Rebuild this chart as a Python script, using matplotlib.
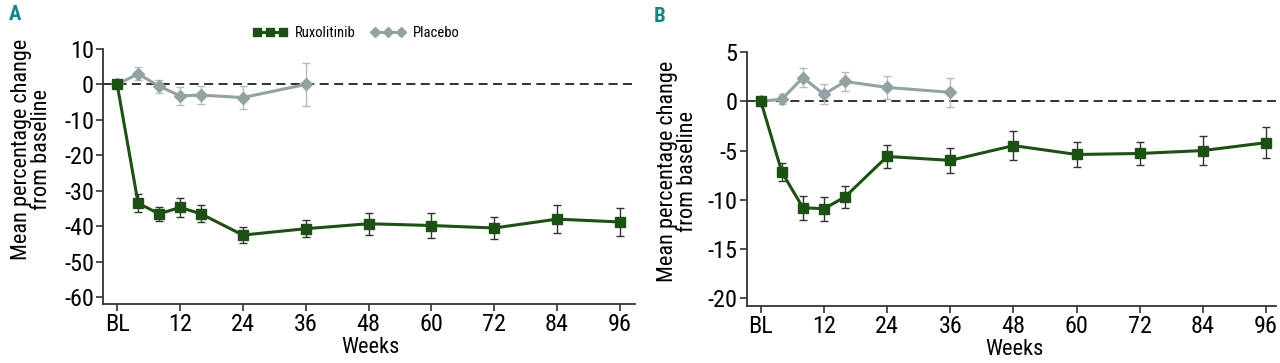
import matplotlib
matplotlib.use('Agg')
import matplotlib.pyplot as plt
from matplotlib.lines import Line2D

plt.rcParams['font.family'] = ['Roboto Condensed', 'DejaVu Sans']
plt.rcParams['axes.unicode_minus'] = False

# 주차 (BL = 0)
weeks_rux = [0, 4, 8, 12, 16, 24, 36, 48, 60, 72, 84, 96]
weeks_pbo = [0, 4, 8, 12, 16, 24, 36]
tick_pos = [0, 12, 24, 36, 48, 60, 72, 84, 96]
tick_labels = ['BL', '12', '24', '36', '48', '60', '72', '84', '96']

# 패널 A
rux_a = [0, -33.5, -36.5, -34.7, -36.5, -42.5, -40.7, -39.3, -39.8, -40.5, -38.0, -38.8]
rux_a_err = [0, 2.5, 2.0, 2.7, 2.4, 2.3, 2.4, 3.1, 3.6, 3.2, 3.9, 3.9]
pbo_a = [0, 3.0, -0.5, -3.2, -3.0, -3.7, 0.0]
pbo_a_err = [0, 1.8, 1.8, 2.5, 2.5, 3.2, 6.0]

# 패널 B
rux_b = [0, -7.2, -10.8, -10.9, -9.7, -5.6, -6.0, -4.5, -5.4, -5.3, -5.0, -4.2]
rux_b_err = [0, 0.9, 1.2, 1.2, 1.1, 1.2, 1.3, 1.5, 1.3, 1.2, 1.5, 1.6]
pbo_b = [0, 0.2, 2.4, 0.7, 2.0, 1.4, 0.9]
pbo_b_err = [0, 0.5, 1.0, 1.0, 1.0, 1.2, 1.5]

green = '#1d5014'
grey = '#93a2a3'
teal = '#188585'

fig = plt.figure(figsize=(12.8, 3.63), dpi=100)
ax_a = fig.add_axes([0.0805, 0.162, 0.4156, 0.703])
ax_b = fig.add_axes([0.5833, 0.156, 0.4137, 0.701])


def draw(ax, rux, rux_err, pbo, pbo_err, ylim, yticks, xlim, ylab_xy, xlab_xy):
    ax.axhline(0, color='#222222', lw=1.3, ls=(0, (5, 3)), zorder=1)
    ax.errorbar(weeks_pbo, pbo, yerr=pbo_err, color=grey, ecolor='#b3bbbb',
                elinewidth=1, capsize=3, capthick=1, lw=2.2, marker='D',
                markersize=6.5, zorder=2)
    ax.errorbar(weeks_rux, rux, yerr=rux_err, color=green, ecolor='#333333',
                elinewidth=1, capsize=3, capthick=1, lw=2.2, marker='s',
                markersize=6.5, zorder=3)
    ax.set_xlim(*xlim)
    ax.set_ylim(*ylim)
    ax.set_yticks(yticks)
    ax.set_xticks(tick_pos)
    ax.set_xticklabels(tick_labels)
    ax.spines['top'].set_visible(False)
    ax.spines['right'].set_visible(False)
    for s in ['left', 'bottom']:
        ax.spines[s].set_color('#333333')
        ax.spines[s].set_linewidth(1.3)
    ax.tick_params(labelsize=17.5, length=5, width=1.2, color='#333333', pad=1.5)
    ax.set_xlabel('Weeks', fontsize=16)
    ax.set_ylabel('Mean percentage change\nfrom baseline', fontsize=16,
                  linespacing=0.95)
    ax.xaxis.set_label_coords(*xlab_xy)
    ax.xaxis.label.set_va('center')
    ax.yaxis.set_label_coords(*ylab_xy)
    ax.yaxis.label.set_va('center')


draw(ax_a, rux_a, rux_a_err, pbo_a, pbo_a_err, (-62, 10), list(range(10, -61, -10)),
     (-2.7, 98.9), (-0.135, 0.605), (0.503, -0.168))
draw(ax_b, rux_b, rux_b_err, pbo_b, pbo_b_err, (-20.8, 5), [5, 0, -5, -10, -15, -20],
     (-2.7, 97.9), (-0.13, 0.53), (0.505, -0.168))

fig.text(9 / 1280, 1 - 15 / 363, 'A', color=teal, fontsize=15, fontweight='bold', va='center')
fig.text(654 / 1280, 1 - 16 / 363, 'B', color=teal, fontsize=15, fontweight='bold', va='center')

handles = [Line2D([], [], color=green, lw=2.2, marker='s', markersize=5.5),
           Line2D([], [], color=grey, lw=2.2, marker='D', markersize=5.5)]
fig.legend(handles, ['Ruxolitinib', 'Placebo'], loc='center',
           bbox_to_anchor=(356 / 1280, 1 - 33 / 363), ncol=2, frameon=False,
           fontsize=10.5, numpoints=3, handlelength=2.4, handletextpad=0.5,
           columnspacing=1.0)

fig.savefig('out.png', dpi=100)
